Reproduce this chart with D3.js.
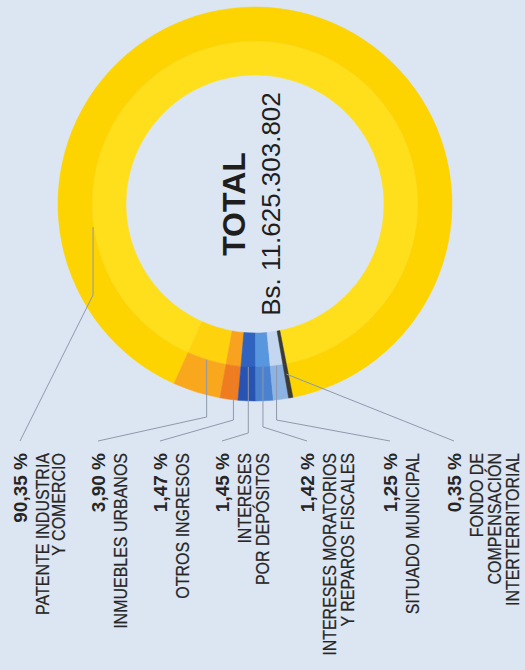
<!DOCTYPE html>
<html>
<head>
<meta charset="utf-8">
<script src="https://cdn.jsdelivr.net/npm/d3@7/dist/d3.min.js"></script>
<style>
  html, body { margin: 0; padding: 0; background: #DCE5F2; }
  svg { display: block; }
</style>
</head>
<body>
<svg id="chart" width="525" height="670"></svg>
<script>
// ---- data ----
const categories = [
  "PATENTE INDUSTRIA Y COMERCIO",
  "INMUEBLES URBANOS",
  "OTROS INGRESOS",
  "INTERESES POR DEPÓSITOS",
  "INTERESES MORATORIOS Y REPAROS FISCALES",
  "SITUADO MUNICIPAL",
  "FONDO DE COMPENSACIÓN INTERTERRITORIAL"
];
const labelLines = [
  ["PATENTE INDUSTRIA", "Y COMERCIO"],
  ["INMUEBLES URBANOS"],
  ["OTROS INGRESOS"],
  ["INTERESES", "POR DEPÓSITOS"],
  ["INTERESES MORATORIOS", "Y REPAROS FISCALES"],
  ["SITUADO MUNICIPAL"],
  ["FONDO DE", "COMPENSACIÓN", "INTERTERRITORIAL"]
];
const values = [90.35, 3.90, 1.47, 1.45, 1.42, 1.25, 0.35];
const totalTitle = "TOTAL";
const totalValue = 11625303802;
const innerColors = ["#FFDF1C", "#FFD20E", "#F8A21F", "#2F63BF", "#5896DD", "#C4D6F0", "#3A3A36"];
const outerColors = ["#FDD300", "#F9A81D", "#EF7C1F", "#2853B3", "#4A82D0", "#8DB2E4", "#3A3A36"];

// ---- layout ----
const W = 525, H = 670;
const cx = 255, cy = 204;
const rInner = 129, rMid = 163, rOuter = 197;
const startDeg = 168.9;              // ring rotation
const labelTopY = 453;               // top end of rotated label texts
const pctCenterX = [20, 98, 160, 222, 307, 390, 454];
const lineStep = [16, 18, 18, 18, 18, 18, 18];
const elbowY = [295, 417, 420, 433, 427, 420, null];
const leaderAngleDeg = [261.9, null, null, null, null, null, null];
const leaderR = [163.6, rMid, rMid, rMid, rMid, rMid, 173];
const font = "'Liberation Sans', Arial, sans-serif";

const loc = d3.formatLocale({decimal: ",", thousands: ".", grouping: [3], currency: ["", ""]});
const fmtPct = v => loc.format(".2f")(v) + " %";
const fmtTotal = v => "Bs. " + loc.format(",")(v);

const svg = d3.select("#chart");
svg.append("rect").attr("width", W).attr("height", H).attr("fill", "#DCE5F2");

const rad = d => d * Math.PI / 180;
const pie = d3.pie().sort(null).value(d => d)
  .startAngle(rad(startDeg)).endAngle(rad(startDeg) - 2 * Math.PI);
const arcsData = pie(values);

const ring = svg.append("g").attr("transform", `translate(${cx},${cy})`);
const arcIn = d3.arc().innerRadius(rInner).outerRadius(rMid);
const arcOut = d3.arc().innerRadius(rMid).outerRadius(rOuter);

ring.selectAll("path.in").data(arcsData).join("path")
  .attr("class", "in").attr("d", arcIn)
  .attr("fill", (d, i) => innerColors[i])
  .attr("stroke", (d, i) => innerColors[i]).attr("stroke-width", 0.5);
ring.selectAll("path.out").data(arcsData).join("path")
  .attr("class", "out").attr("d", arcOut)
  .attr("fill", (d, i) => outerColors[i])
  .attr("stroke", (d, i) => outerColors[i]).attr("stroke-width", 0.5);

// ---- leader lines ----
const polar = (r, a) => [cx + r * Math.sin(a), cy - r * Math.cos(a)];
const leaders = svg.append("g").attr("fill", "none").attr("stroke", "#8E99AB").attr("stroke-width", 1);
arcsData.forEach((d, i) => {
  const a = leaderAngleDeg[i] != null ? rad(leaderAngleDeg[i]) : (d.startAngle + d.endAngle) / 2;
  const p0 = polar(leaderR[i], a);
  const pts = [p0];
  if (elbowY[i] != null) pts.push([p0[0], elbowY[i]]);
  pts.push([pctCenterX[i], labelTopY - 12]);
  leaders.append("path").attr("d", d3.line()(pts));
});

// ---- labels (rotated, reading bottom to top) ----
const labels = svg.append("g").attr("fill", "#262626");
values.forEach((v, i) => {
  const bx = pctCenterX[i] + 7;
  labels.append("text")
    .attr("transform", `translate(${bx},${labelTopY}) rotate(-90)`)
    .attr("text-anchor", "end")
    .attr("font-family", font)
    .attr("font-weight", "bold").attr("font-size", 19)
    .text(fmtPct(v));
  labelLines[i].forEach((t, j) => {
    labels.append("text")
      .attr("transform", `translate(${bx + 22 + j * lineStep[i]},${labelTopY}) rotate(-90) scale(1,1.12)`)
      .attr("text-anchor", "end")
      .attr("font-family", font)
      .attr("font-size", 16)
      .attr("stroke", "#262626").attr("stroke-width", 0.2)
      .text(t);
  });
});

// ---- centre text ----
svg.append("text")
  .attr("transform", `translate(245,${cy}) rotate(-90)`)
  .attr("text-anchor", "middle")
  .attr("font-family", font)
  .attr("font-weight", "bold").attr("font-size", 32).attr("fill", "#1E1E1E")
  .text(totalTitle);
svg.append("text")
  .attr("transform", `translate(280,${cy}) rotate(-90)`)
  .attr("text-anchor", "middle")
  .attr("font-family", font)
  .attr("font-size", 26).attr("fill", "#1E1E1E")
  .text(fmtTotal(totalValue));
</script>
</body>
</html>
